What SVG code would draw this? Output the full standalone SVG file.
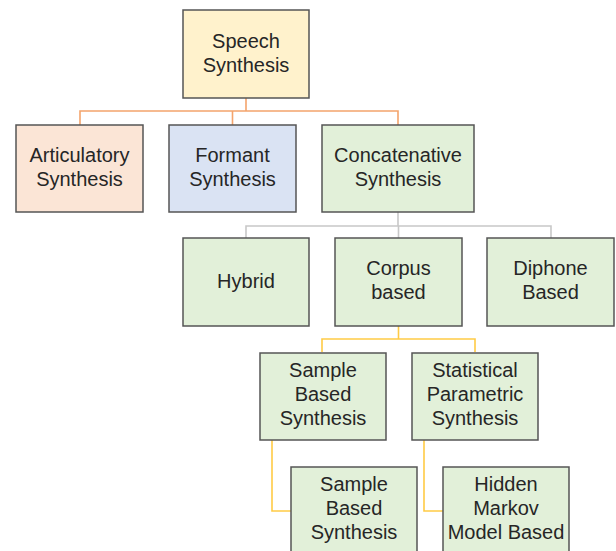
<svg xmlns="http://www.w3.org/2000/svg" width="616" height="551" viewBox="0 0 616 551">
<style>
.b{stroke:#555;stroke-width:1.5}
.y{fill:#FFF2CC}.p{fill:#FBE5D6}.bl{fill:#DAE3F3}.g{fill:#E2F0D9}
text{font-family:"Liberation Sans",Arial,sans-serif;font-size:20px;fill:#262626;text-anchor:middle}
.c{fill:none;stroke-width:1.6}
</style>
<rect width="616" height="551" fill="#fff"/>
<g id="connectors">
<path class="c" stroke="#F4A46C" d="M246 98V111M80 125V111H398V125M232.5 111V125"/>
<path class="c" stroke="#C8C8C8" d="M398 212V226M246 238V226H551V238M398.5 226V238"/>
<path class="c" stroke="#FFCB45" d="M398.5 325V339M322 352V339H475V352"/>
<path class="c" stroke="#FFCB45" d="M272 440V511H291M424 440V511H443"/>
</g>
<g id="speech"><rect class="b y" x="183" y="10" width="126" height="88"/><text x="246" y="48">Speech</text><text x="246" y="72">Synthesis</text></g>
<g id="articulatory"><rect class="b p" x="16" y="125" width="127" height="87"/><text x="79.5" y="162">Articulatory</text><text x="79.5" y="186">Synthesis</text></g>
<g id="formant"><rect class="b bl" x="169" y="125" width="127" height="87"/><text x="232.5" y="162">Formant</text><text x="232.5" y="186">Synthesis</text></g>
<g id="concatenative"><rect class="b g" x="322" y="125" width="152" height="87"/><text x="398" y="162">Concatenative</text><text x="398" y="186">Synthesis</text></g>
<g id="hybrid"><rect class="b g" x="183" y="238" width="126" height="88"/><text x="246" y="288">Hybrid</text></g>
<g id="corpus"><rect class="b g" x="335" y="238" width="127" height="88"/><text x="398.5" y="275">Corpus</text><text x="398.5" y="299">based</text></g>
<g id="diphone"><rect class="b g" x="487" y="238" width="127" height="88"/><text x="550.5" y="275">Diphone</text><text x="550.5" y="299">Based</text></g>
<g id="sample1"><rect class="b g" x="260" y="353" width="126" height="87"/><text x="323" y="377">Sample</text><text x="323" y="401">Based</text><text x="323" y="425">Synthesis</text></g>
<g id="statistical"><rect class="b g" x="412" y="353" width="126" height="87"/><text x="475" y="377">Statistical</text><text x="475" y="401">Parametric</text><text x="475" y="425">Synthesis</text></g>
<g id="sample2"><rect class="b g" x="291" y="467" width="126" height="90"/><text x="354" y="491">Sample</text><text x="354" y="515">Based</text><text x="354" y="539">Synthesis</text></g>
<g id="hmm"><rect class="b g" x="443" y="467" width="126" height="90"/><text x="506" y="491">Hidden</text><text x="506" y="515">Markov</text><text x="506" y="539">Model Based</text></g>
</svg>
